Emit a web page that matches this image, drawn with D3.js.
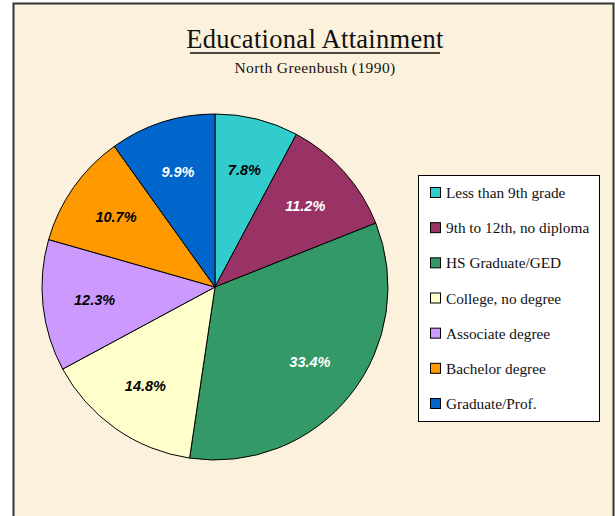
<!DOCTYPE html>
<html>
<head>
<meta charset="utf-8">
<script src="https://cdn.jsdelivr.net/npm/d3@7"></script>
<style>
  html, body { margin: 0; padding: 0; background: #ffffff; }
  svg { display: block; }
</style>
</head>
<body>
<script>
"use strict"

/* categorie, valori e colori del grafico */
const categorie = ["Less than 9th grade", "9th to 12th, no diploma", "HS Graduate/GED",
    "College, no degree", "Associate degree", "Bachelor degree", "Graduate/Prof."];
const percentuali = [7.8, 11.2, 33.4, 14.8, 12.3, 10.7, 9.9];
const colori = ["#33cccc", "#993366", "#339966", "#ffffcc", "#cc99ff", "#ff9900", "#0066cc"];
const coloriEtichette = ["#000", "#fff", "#fff", "#000", "#000", "#000", "#fff"];

const grafico = { larghezza: 615, altezza: 516 };
const centro = { x: 215, y: 287 };
const raggio = 173;

const svg = d3.select("body")
    .append("svg")
    .attr("width", grafico.larghezza)
    .attr("height", grafico.altezza);

/* sfondo pergamena con bordo */
svg.append("rect")
    .attr("x", 13.5).attr("y", 3.5)
    .attr("width", 600).attr("height", 530)
    .attr("fill", "#fcf1dc")
    .attr("stroke", "#333").attr("stroke-width", 2);

/* titolo sottolineato e sottotitolo */
const fontSerif = "'Liberation Serif', 'DejaVu Serif', serif";
svg.append("text")
    .attr("x", 315).attr("y", 48)
    .attr("text-anchor", "middle")
    .attr("font-family", fontSerif)
    .attr("font-size", 26.5)
    .attr("letter-spacing", 0.3)
    .attr("fill", "#111")
    .text("Educational Attainment");
svg.append("line")
    .attr("x1", 190).attr("x2", 440)
    .attr("y1", 53).attr("y2", 53)
    .attr("stroke", "#111").attr("stroke-width", 1.6);

svg.append("text")
    .attr("x", 315).attr("y", 73)
    .attr("text-anchor", "middle")
    .attr("font-family", fontSerif)
    .attr("font-size", 15.5)
    .attr("letter-spacing", 0.4)
    .attr("fill", "#111")
    .text("North Greenbush (1990)");

/* torta: parte dall'alto, in senso orario */
const torta = d3.pie().sort(null).value(function (d) { return d });
const arco = d3.arc().innerRadius(0).outerRadius(raggio);
const arcoEtichette = d3.arc().innerRadius(raggio * 0.7).outerRadius(raggio * 0.7);

const fette = svg.append("g")
    .attr("transform", "translate(" + centro.x + "," + centro.y + ")")
    .selectAll("g")
    .data(torta(percentuali))
    .enter()
    .append("g");

fette.append("path")
    .attr("d", arco)
    .attr("fill", function (d, i) { return colori[i] })
    .attr("stroke", "#000")
    .attr("stroke-width", 1);

fette.append("text")
    .attr("transform", function (d) { return "translate(" + arcoEtichette.centroid(d) + ")" })
    .attr("text-anchor", "middle")
    .attr("dy", "0.35em")
    .attr("font-family", "'Liberation Sans', Arial, sans-serif")
    .attr("font-weight", "bold")
    .attr("font-style", "italic")
    .attr("font-size", 14.5)
    .attr("fill", function (d, i) { return coloriEtichette[i] })
    .text(function (d) { return d.data.toFixed(1) + "%" });

/* legenda */
const legenda = svg.append("g");
legenda.append("rect")
    .attr("x", 418.5).attr("y", 175.5)
    .attr("width", 181).attr("height", 246)
    .attr("fill", "#fff")
    .attr("stroke", "#000").attr("stroke-width", 1);

const y = d3.scalePoint()
    .domain(categorie)
    .range([193, 404]);

const voci = legenda.selectAll("g.voce")
    .data(categorie)
    .enter()
    .append("g")
    .attr("class", "voce")
    .attr("transform", function (d) { return "translate(0," + y(d) + ")" });

voci.append("rect")
    .attr("x", 430.5).attr("y", -5.5)
    .attr("width", 10).attr("height", 10)
    .attr("fill", function (d, i) { return colori[i] })
    .attr("stroke", "#000").attr("stroke-width", 1);

voci.append("text")
    .attr("x", 446).attr("y", 0)
    .attr("dy", "0.33em")
    .attr("font-family", fontSerif)
    .attr("font-size", 15.3)
    .attr("fill", "#111")
    .text(function (d) { return d });
</script>
</body>
</html>
